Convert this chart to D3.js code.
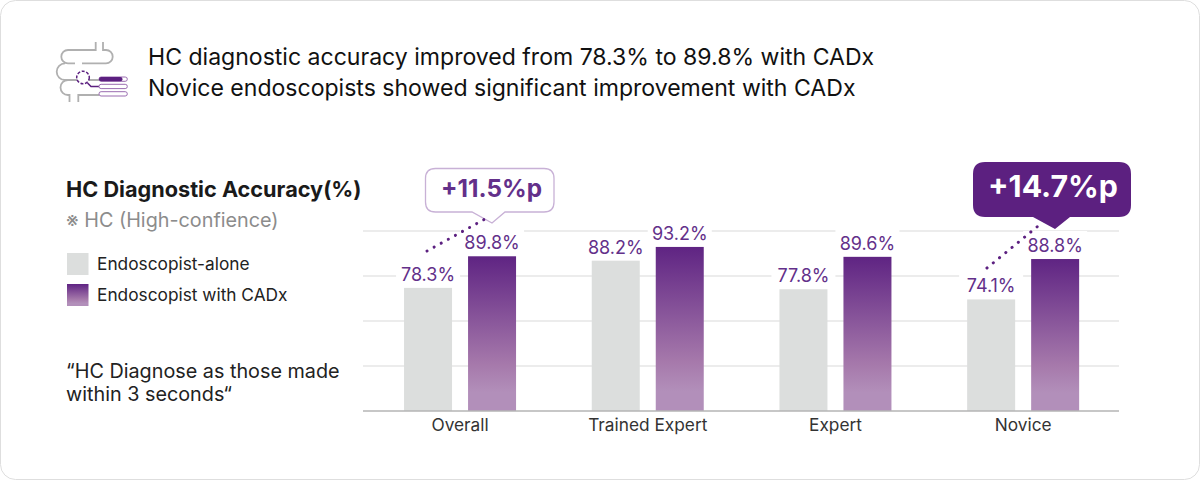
<!DOCTYPE html>
<html>
<head>
<meta charset="utf-8">
<script src="https://cdn.jsdelivr.net/npm/d3@7/dist/d3.min.js"></script>
<style>
  html, body { margin: 0; padding: 0; background: #fff; }
  svg { display: block; font-family: Inter, "Noto Sans", sans-serif; }
</style>
</head>
<body>
<svg id="chart" width="1200" height="480"></svg>
<script>
// Accuracy per endoscopist group, in percent
const categories = ["Overall", "Trained Expert", "Expert", "Novice"];
const seriesNames = ["Endoscopist-alone", "Endoscopist with CADx"];
const aloneValues = [78.3, 88.2, 77.8, 74.1];
const cadxValues = [89.8, 93.2, 89.6, 88.8];
const headlineLines = [
  "HC diagnostic accuracy improved from 78.3% to 89.8% with CADx",
  "Novice endoscopists showed significant improvement with CADx"
];
const noteLines = ["“HC Diagnose as those made", "within 3 seconds“"];

const PURPLE = "#5c2080";
const LABEL_PURPLE = "#63308a";
const GRAY_BAR = "#dcdedd";

const svg = d3.select("#chart");

const defs = svg.append("defs");
const grad = defs.append("linearGradient")
  .attr("id", "cadxFill").attr("x1", 0).attr("y1", 0).attr("x2", 0).attr("y2", 1);
grad.append("stop").attr("offset", "0%").attr("stop-color", "#5f2483");
grad.append("stop").attr("offset", "70%").attr("stop-color", "#a679ab");
grad.append("stop").attr("offset", "88%").attr("stop-color", "#b28fba");
grad.append("stop").attr("offset", "100%").attr("stop-color", "#b28fba");

// Card outline
svg.append("rect")
  .attr("x", 0.5).attr("y", 0.5).attr("width", 1199).attr("height", 479)
  .attr("rx", 15).attr("fill", "#fff").attr("stroke", "#dedede");

// Headline icon: intestine outline with a magnifier and a small list
const icon = svg.append("g").attr("fill", "none");
const gut = icon.append("g").attr("stroke", "#b0b0b0").attr("stroke-width", 1.8);
[
  "M95.7 42V50H68a6.7 6.7 0 0 0 0 13.4H75",
  "M103 42V50H106a6.7 6.7 0 0 1 0 13.4H82",
  "M65 63.4a8.3 8.3 0 0 0 0 16.6H99",
  "M68 80a7.5 7.5 0 0 0 0 15H69.5V102",
  "M78.3 102V95H99"
].forEach(d => gut.append("path").attr("d", d));
const lens = icon.append("g").attr("stroke", PURPLE).attr("stroke-width", 1.5);
lens.append("circle").attr("cx", 83).attr("cy", 77.5).attr("r", 6.3)
  .attr("fill", "#fff").attr("stroke-dasharray", "3 1.6");
lens.append("path").attr("d", "M87.5 83L91 86.6H99");
const listBars = icon.append("g");
[77, 84.3, 91.7].forEach(top => {
  listBars.append("rect").attr("x", 99).attr("y", top).attr("width", 28.3).attr("height", 4.3)
    .attr("rx", 2.1).attr("fill", "#fff").attr("stroke", "#9a6cb0").attr("stroke-width", 1);
});
listBars.append("rect").attr("x", 99).attr("y", 77).attr("width", 23.5).attr("height", 4.3)
  .attr("rx", 2.1).attr("fill", PURPLE);

// Headline
svg.append("g").selectAll("text").data(headlineLines).join("text")
  .attr("x", 148).attr("y", (d, i) => 65 + i * 31)
  .attr("font-size", 23.05).attr("fill", "#111").text(d => d);

// Left panel
svg.append("text").attr("x", 66).attr("y", 197)
  .attr("font-size", 21.7).attr("font-weight", 650).attr("fill", "#1a1a1a")
  .text("HC Diagnostic Accuracy(%)");
svg.append("text").attr("x", 66).attr("y", 227)
  .attr("font-size", 19.8).attr("fill", "#8c8c8c").text("※ HC (High-confience)");

const legendFills = [GRAY_BAR, "url(#cadxFill)"];
const legend = svg.append("g").selectAll("g").data(seriesNames).join("g")
  .attr("transform", (d, i) => `translate(67,${253 + i * 31})`);
legend.append("rect").attr("width", 21.5).attr("height", 22).attr("fill", (d, i) => legendFills[i]);
legend.append("text").attr("x", 30).attr("y", 16.5)
  .attr("font-size", 17.3).attr("fill", "#222").text(d => d);

svg.append("g").selectAll("text").data(noteLines).join("text")
  .attr("x", 66).attr("y", (d, i) => 378 + i * 23)
  .attr("font-size", 19.8).attr("fill", "#222").text(d => d);

// Scales
const y = d3.scaleLinear().domain([33.5, 99]).range([411, 231]);
const x0 = d3.scaleBand().domain(categories).range([366.2, 1117]);
const x1 = d3.scaleBand().domain(seriesNames).range([-56, 56]).paddingInner(0.25);

// Gridlines, evenly spaced across the value domain
const gridValues = d3.quantize(d3.interpolateNumber(...y.domain()), 5).slice(1);
svg.append("g").selectAll("line").data(gridValues).join("line")
  .attr("x1", 363).attr("x2", 1119)
  .attr("y1", d => y(d)).attr("y2", d => y(d))
  .attr("stroke", "#e6e6e6").attr("stroke-width", 1.4);

const rows = categories.flatMap((c, i) => [
  { category: c, series: seriesNames[0], value: aloneValues[i] },
  { category: c, series: seriesNames[1], value: cadxValues[i] }
]);
const barCentre = d => x0(d.category) + x0.bandwidth() / 2 + x1(d.series) + x1.bandwidth() / 2;

// White plates that interrupt the gridlines behind each value label
svg.append("g").selectAll("rect").data(rows).join("rect")
  .attr("x", d => barCentre(d) - 32).attr("y", d => y(d.value) - 28)
  .attr("width", 64).attr("height", 28).attr("fill", "#fff");

// Bars
svg.append("g").selectAll("rect").data(rows).join("rect")
  .attr("x", d => barCentre(d) - x1.bandwidth() / 2)
  .attr("y", d => y(d.value))
  .attr("width", x1.bandwidth())
  .attr("height", d => y.range()[0] - y(d.value))
  .attr("fill", d => d.series === seriesNames[0] ? GRAY_BAR : "url(#cadxFill)");

// Value labels
svg.append("g").selectAll("text").data(rows).join("text")
  .attr("x", barCentre).attr("y", d => y(d.value) - 7)
  .attr("text-anchor", "middle").attr("font-size", 18).attr("fill", LABEL_PURPLE)
  .text(d => d.value.toFixed(1) + "%");

// Category axis
const axis = svg.append("g").attr("transform", `translate(0,${y.range()[0]})`)
  .call(d3.axisBottom(x0).tickSize(0).tickPadding(8));
axis.select(".domain").attr("stroke", "#b5b5b5").attr("stroke-width", 1.6)
  .attr("d", "M363 0H1119");
axis.selectAll("text").attr("font-family", "Inter, sans-serif")
  .attr("font-size", 17.3).attr("fill", "#333");

// Improvement callouts
function callout(left, top, right, bottom, tipX, tipY, halfBase, radius) {
  const base = tipX - 7;
  return `M${left + radius} ${top}H${right - radius}Q${right} ${top} ${right} ${top + radius}` +
    `V${bottom - radius}Q${right} ${bottom} ${right - radius} ${bottom}` +
    `H${base + halfBase}L${tipX} ${tipY}L${base - halfBase + 7} ${bottom}` +
    `H${left + radius}Q${left} ${bottom} ${left} ${bottom - radius}` +
    `V${top + radius}Q${left} ${top} ${left + radius} ${top}Z`;
}
const deltas = [
  { text: "+11.5%p", box: [425.5, 168.5, 554, 212, 492, 223, 20, 10], fill: "#fff", stroke: "#c8b1d6", color: LABEL_PURPLE, size: 24.3, weight: 650, textX: 491.5, base: 197, dots: [427, 251, 485, 219] },
  { text: "+14.7%p", box: [973, 162, 1131, 217, 1055, 229, 22, 12], fill: PURPLE, stroke: "none", color: "#fff", size: 30.3, weight: 650, textX: 1053, base: 197, dots: [987, 268, 1043, 222] }
];
deltas.forEach(c => {
  const g = svg.append("g");
  g.append("path").attr("d", callout(...c.box)).attr("fill", c.fill).attr("stroke", c.stroke).attr("stroke-width", 1.3);
  g.append("line")
    .attr("x1", c.dots[0]).attr("y1", c.dots[1]).attr("x2", c.dots[2]).attr("y2", c.dots[3])
    .attr("stroke", PURPLE).attr("stroke-width", 3).attr("stroke-linecap", "round").attr("stroke-dasharray", "0.1 8");
  g.append("text").attr("x", c.textX).attr("y", c.base)
    .attr("text-anchor", "middle").attr("font-size", c.size).attr("font-weight", c.weight)
    .attr("fill", c.color).text(c.text);
});
</script>
</body>
</html>
